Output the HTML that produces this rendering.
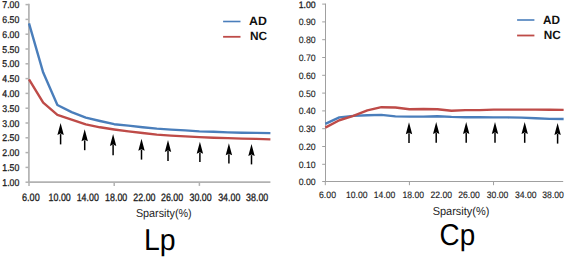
<!DOCTYPE html>
<html><head><meta charset="utf-8"><style>
html,body{margin:0;padding:0;background:#fff;width:567px;height:259px;overflow:hidden}
svg{display:block}
</style></head><body>
<svg width="567" height="259" viewBox="0 0 567 259" text-rendering="geometricPrecision">
<rect width="567" height="259" fill="#fff"/>
<line x1="28.9" y1="3.8" x2="28.9" y2="182.2" stroke="#b2b2b2" stroke-width="1.7"/>
<line x1="28" y1="182.2" x2="270.4" y2="182.2" stroke="#b2b2b2" stroke-width="1.7"/>
<line x1="25.5" y1="4.60" x2="28.9" y2="4.60" stroke="#b2b2b2" stroke-width="1.5"/>
<text x="19.3" y="8.20" text-anchor="end" font-size="9.8" fill="#1e1e1e" font-family="Liberation Sans, sans-serif" stroke="#1e1e1e" stroke-width="0.3" textLength="17.0" lengthAdjust="spacingAndGlyphs">7.00</text>
<line x1="25.5" y1="19.40" x2="28.9" y2="19.40" stroke="#b2b2b2" stroke-width="1.5"/>
<text x="19.3" y="23.00" text-anchor="end" font-size="9.8" fill="#1e1e1e" font-family="Liberation Sans, sans-serif" stroke="#1e1e1e" stroke-width="0.3" textLength="17.0" lengthAdjust="spacingAndGlyphs">6.50</text>
<line x1="25.5" y1="34.20" x2="28.9" y2="34.20" stroke="#b2b2b2" stroke-width="1.5"/>
<text x="19.3" y="37.80" text-anchor="end" font-size="9.8" fill="#1e1e1e" font-family="Liberation Sans, sans-serif" stroke="#1e1e1e" stroke-width="0.3" textLength="17.0" lengthAdjust="spacingAndGlyphs">6.00</text>
<line x1="25.5" y1="49.00" x2="28.9" y2="49.00" stroke="#b2b2b2" stroke-width="1.5"/>
<text x="19.3" y="52.60" text-anchor="end" font-size="9.8" fill="#1e1e1e" font-family="Liberation Sans, sans-serif" stroke="#1e1e1e" stroke-width="0.3" textLength="17.0" lengthAdjust="spacingAndGlyphs">5.50</text>
<line x1="25.5" y1="63.80" x2="28.9" y2="63.80" stroke="#b2b2b2" stroke-width="1.5"/>
<text x="19.3" y="67.40" text-anchor="end" font-size="9.8" fill="#1e1e1e" font-family="Liberation Sans, sans-serif" stroke="#1e1e1e" stroke-width="0.3" textLength="17.0" lengthAdjust="spacingAndGlyphs">5.00</text>
<line x1="25.5" y1="78.60" x2="28.9" y2="78.60" stroke="#b2b2b2" stroke-width="1.5"/>
<text x="19.3" y="82.20" text-anchor="end" font-size="9.8" fill="#1e1e1e" font-family="Liberation Sans, sans-serif" stroke="#1e1e1e" stroke-width="0.3" textLength="17.0" lengthAdjust="spacingAndGlyphs">4.50</text>
<line x1="25.5" y1="93.40" x2="28.9" y2="93.40" stroke="#b2b2b2" stroke-width="1.5"/>
<text x="19.3" y="97.00" text-anchor="end" font-size="9.8" fill="#1e1e1e" font-family="Liberation Sans, sans-serif" stroke="#1e1e1e" stroke-width="0.3" textLength="17.0" lengthAdjust="spacingAndGlyphs">4.00</text>
<line x1="25.5" y1="108.20" x2="28.9" y2="108.20" stroke="#b2b2b2" stroke-width="1.5"/>
<text x="19.3" y="111.80" text-anchor="end" font-size="9.8" fill="#1e1e1e" font-family="Liberation Sans, sans-serif" stroke="#1e1e1e" stroke-width="0.3" textLength="17.0" lengthAdjust="spacingAndGlyphs">3.50</text>
<line x1="25.5" y1="123.00" x2="28.9" y2="123.00" stroke="#b2b2b2" stroke-width="1.5"/>
<text x="19.3" y="126.60" text-anchor="end" font-size="9.8" fill="#1e1e1e" font-family="Liberation Sans, sans-serif" stroke="#1e1e1e" stroke-width="0.3" textLength="17.0" lengthAdjust="spacingAndGlyphs">3.00</text>
<line x1="25.5" y1="137.80" x2="28.9" y2="137.80" stroke="#b2b2b2" stroke-width="1.5"/>
<text x="19.3" y="141.40" text-anchor="end" font-size="9.8" fill="#1e1e1e" font-family="Liberation Sans, sans-serif" stroke="#1e1e1e" stroke-width="0.3" textLength="17.0" lengthAdjust="spacingAndGlyphs">2.50</text>
<line x1="25.5" y1="152.60" x2="28.9" y2="152.60" stroke="#b2b2b2" stroke-width="1.5"/>
<text x="19.3" y="156.20" text-anchor="end" font-size="9.8" fill="#1e1e1e" font-family="Liberation Sans, sans-serif" stroke="#1e1e1e" stroke-width="0.3" textLength="17.0" lengthAdjust="spacingAndGlyphs">2.00</text>
<line x1="25.5" y1="167.40" x2="28.9" y2="167.40" stroke="#b2b2b2" stroke-width="1.5"/>
<text x="19.3" y="171.00" text-anchor="end" font-size="9.8" fill="#1e1e1e" font-family="Liberation Sans, sans-serif" stroke="#1e1e1e" stroke-width="0.3" textLength="17.0" lengthAdjust="spacingAndGlyphs">1.50</text>
<line x1="25.5" y1="182.20" x2="28.9" y2="182.20" stroke="#b2b2b2" stroke-width="1.5"/>
<text x="19.3" y="185.80" text-anchor="end" font-size="9.8" fill="#1e1e1e" font-family="Liberation Sans, sans-serif" stroke="#1e1e1e" stroke-width="0.3" textLength="17.0" lengthAdjust="spacingAndGlyphs">1.00</text>
<line x1="29.00" y1="182.2" x2="29.00" y2="185.9" stroke="#b2b2b2" stroke-width="1.5"/>
<line x1="114.20" y1="182.2" x2="114.20" y2="185.9" stroke="#b2b2b2" stroke-width="1.5"/>
<line x1="199.40" y1="182.2" x2="199.40" y2="185.9" stroke="#b2b2b2" stroke-width="1.5"/>
<text x="30.85" y="200.8" text-anchor="middle" font-size="10.6" fill="#1e1e1e" font-family="Liberation Sans, sans-serif" stroke="#1e1e1e" stroke-width="0.3" textLength="17.7" lengthAdjust="spacingAndGlyphs">6.00</text>
<text x="59.7" y="200.8" text-anchor="middle" font-size="10.6" fill="#1e1e1e" font-family="Liberation Sans, sans-serif" stroke="#1e1e1e" stroke-width="0.3" textLength="22.2" lengthAdjust="spacingAndGlyphs">10.00</text>
<text x="87.8" y="200.8" text-anchor="middle" font-size="10.6" fill="#1e1e1e" font-family="Liberation Sans, sans-serif" stroke="#1e1e1e" stroke-width="0.3" textLength="22.2" lengthAdjust="spacingAndGlyphs">14.00</text>
<text x="116.2" y="200.8" text-anchor="middle" font-size="10.6" fill="#1e1e1e" font-family="Liberation Sans, sans-serif" stroke="#1e1e1e" stroke-width="0.3" textLength="22.2" lengthAdjust="spacingAndGlyphs">18.00</text>
<text x="144.4" y="200.8" text-anchor="middle" font-size="10.6" fill="#1e1e1e" font-family="Liberation Sans, sans-serif" stroke="#1e1e1e" stroke-width="0.3" textLength="22.2" lengthAdjust="spacingAndGlyphs">22.00</text>
<text x="172.1" y="200.8" text-anchor="middle" font-size="10.6" fill="#1e1e1e" font-family="Liberation Sans, sans-serif" stroke="#1e1e1e" stroke-width="0.3" textLength="22.2" lengthAdjust="spacingAndGlyphs">26.00</text>
<text x="200.6" y="200.8" text-anchor="middle" font-size="10.6" fill="#1e1e1e" font-family="Liberation Sans, sans-serif" stroke="#1e1e1e" stroke-width="0.3" textLength="22.2" lengthAdjust="spacingAndGlyphs">30.00</text>
<text x="229.3" y="200.8" text-anchor="middle" font-size="10.6" fill="#1e1e1e" font-family="Liberation Sans, sans-serif" stroke="#1e1e1e" stroke-width="0.3" textLength="22.2" lengthAdjust="spacingAndGlyphs">34.00</text>
<text x="257.2" y="200.8" text-anchor="middle" font-size="10.6" fill="#1e1e1e" font-family="Liberation Sans, sans-serif" stroke="#1e1e1e" stroke-width="0.3" textLength="22.2" lengthAdjust="spacingAndGlyphs">38.00</text>
<polyline points="29.00,79.30 43.20,102.70 57.40,114.90 71.60,119.70 85.80,124.30 100.00,127.30 114.20,129.50 128.40,131.40 142.60,133.00 156.80,134.60 171.00,135.60 185.20,136.40 199.40,137.10 213.60,137.70 227.80,138.10 242.00,138.60 256.20,138.90 270.40,139.40" fill="none" stroke="#be4b48" stroke-width="2.4" stroke-linejoin="round" stroke-linecap="butt"/>
<polyline points="29.00,23.40 43.20,72.60 57.40,105.00 71.60,112.10 85.80,117.60 100.00,121.00 114.20,124.20 128.40,125.60 142.60,127.20 156.80,128.60 171.00,129.60 185.20,130.40 199.40,131.35 213.60,131.80 227.80,132.40 242.00,132.80 256.20,132.90 270.40,133.10" fill="none" stroke="#4a7ebb" stroke-width="2.4" stroke-linejoin="round" stroke-linecap="butt"/>
<line x1="223.1" y1="21.5" x2="240.5" y2="21.5" stroke="#4a7ebb" stroke-width="1.6"/>
<line x1="223.1" y1="36.8" x2="240.5" y2="36.8" stroke="#be4b48" stroke-width="1.8"/>
<text x="249" y="25" font-size="12" font-weight="bold" fill="#111" font-family="Liberation Sans, sans-serif" textLength="17.8" lengthAdjust="spacingAndGlyphs">AD</text>
<text x="249.9" y="40.1" font-size="12" font-weight="bold" fill="#111" font-family="Liberation Sans, sans-serif" textLength="17.1" lengthAdjust="spacingAndGlyphs">NC</text>
<text x="135.9" y="217.3" font-size="11.5" fill="#1e1e1e" font-family="Liberation Sans, sans-serif" textLength="55.8" lengthAdjust="spacingAndGlyphs">Sparsity(%)</text>
<text x="143.9" y="250.2" font-size="30" fill="#000" font-family="Liberation Sans, sans-serif" textLength="31.6" lengthAdjust="spacingAndGlyphs">Lp</text>
<line x1="325.5" y1="3.5999999999999996" x2="325.5" y2="182" stroke="#a0a0a0" stroke-width="1"/>
<line x1="325" y1="181.5" x2="563.2" y2="181.5" stroke="#a0a0a0" stroke-width="1"/>
<line x1="322.2" y1="4.10" x2="325.5" y2="4.10" stroke="#a0a0a0" stroke-width="1"/>
<text x="315.7" y="7.60" text-anchor="end" font-size="9.4" fill="#1e1e1e" font-family="Liberation Sans, sans-serif" stroke="#1e1e1e" stroke-width="0.3" textLength="17" lengthAdjust="spacingAndGlyphs">1.00</text>
<line x1="322.2" y1="21.90" x2="325.5" y2="21.90" stroke="#a0a0a0" stroke-width="1"/>
<text x="315.7" y="25.40" text-anchor="end" font-size="9.4" fill="#1e1e1e" font-family="Liberation Sans, sans-serif" stroke="#1e1e1e" stroke-width="0.15" textLength="17" lengthAdjust="spacingAndGlyphs">0.90</text>
<line x1="322.2" y1="39.70" x2="325.5" y2="39.70" stroke="#a0a0a0" stroke-width="1"/>
<text x="315.7" y="43.20" text-anchor="end" font-size="9.4" fill="#1e1e1e" font-family="Liberation Sans, sans-serif" stroke="#1e1e1e" stroke-width="0.15" textLength="17" lengthAdjust="spacingAndGlyphs">0.80</text>
<line x1="322.2" y1="57.50" x2="325.5" y2="57.50" stroke="#a0a0a0" stroke-width="1"/>
<text x="315.7" y="61.00" text-anchor="end" font-size="9.4" fill="#1e1e1e" font-family="Liberation Sans, sans-serif" stroke="#1e1e1e" stroke-width="0.15" textLength="17" lengthAdjust="spacingAndGlyphs">0.70</text>
<line x1="322.2" y1="75.30" x2="325.5" y2="75.30" stroke="#a0a0a0" stroke-width="1"/>
<text x="315.7" y="78.80" text-anchor="end" font-size="9.4" fill="#1e1e1e" font-family="Liberation Sans, sans-serif" stroke="#1e1e1e" stroke-width="0.15" textLength="17" lengthAdjust="spacingAndGlyphs">0.60</text>
<line x1="322.2" y1="93.10" x2="325.5" y2="93.10" stroke="#a0a0a0" stroke-width="1"/>
<text x="315.7" y="96.60" text-anchor="end" font-size="9.4" fill="#1e1e1e" font-family="Liberation Sans, sans-serif" stroke="#1e1e1e" stroke-width="0.15" textLength="17" lengthAdjust="spacingAndGlyphs">0.50</text>
<line x1="322.2" y1="110.90" x2="325.5" y2="110.90" stroke="#a0a0a0" stroke-width="1"/>
<text x="315.7" y="114.40" text-anchor="end" font-size="9.4" fill="#1e1e1e" font-family="Liberation Sans, sans-serif" stroke="#1e1e1e" stroke-width="0.15" textLength="17" lengthAdjust="spacingAndGlyphs">0.40</text>
<line x1="322.2" y1="128.70" x2="325.5" y2="128.70" stroke="#a0a0a0" stroke-width="1"/>
<text x="315.7" y="132.20" text-anchor="end" font-size="9.4" fill="#1e1e1e" font-family="Liberation Sans, sans-serif" stroke="#1e1e1e" stroke-width="0.15" textLength="17" lengthAdjust="spacingAndGlyphs">0.30</text>
<line x1="322.2" y1="146.50" x2="325.5" y2="146.50" stroke="#a0a0a0" stroke-width="1"/>
<text x="315.7" y="150.00" text-anchor="end" font-size="9.4" fill="#1e1e1e" font-family="Liberation Sans, sans-serif" stroke="#1e1e1e" stroke-width="0.15" textLength="17" lengthAdjust="spacingAndGlyphs">0.20</text>
<line x1="322.2" y1="164.30" x2="325.5" y2="164.30" stroke="#a0a0a0" stroke-width="1"/>
<text x="315.7" y="167.80" text-anchor="end" font-size="9.4" fill="#1e1e1e" font-family="Liberation Sans, sans-serif" stroke="#1e1e1e" stroke-width="0.15" textLength="17" lengthAdjust="spacingAndGlyphs">0.10</text>
<line x1="322.2" y1="181.50" x2="325.5" y2="181.50" stroke="#a0a0a0" stroke-width="1"/>
<text x="315.7" y="185.00" text-anchor="end" font-size="9.4" fill="#1e1e1e" font-family="Liberation Sans, sans-serif" stroke="#1e1e1e" stroke-width="0.15" textLength="17" lengthAdjust="spacingAndGlyphs">0.00</text>
<line x1="325.30" y1="181.5" x2="325.30" y2="185.2" stroke="#a0a0a0" stroke-width="1"/>
<line x1="409.42" y1="181.5" x2="409.42" y2="185.2" stroke="#a0a0a0" stroke-width="1"/>
<line x1="493.54" y1="181.5" x2="493.54" y2="185.2" stroke="#a0a0a0" stroke-width="1"/>
<text x="327.5" y="197.9" text-anchor="middle" font-size="9.4" fill="#1e1e1e" font-family="Liberation Sans, sans-serif" stroke="#1e1e1e" stroke-width="0.15" textLength="17.0" lengthAdjust="spacingAndGlyphs">6.00</text>
<text x="356.7" y="197.9" text-anchor="middle" font-size="9.4" fill="#1e1e1e" font-family="Liberation Sans, sans-serif" stroke="#1e1e1e" stroke-width="0.15" textLength="21.6" lengthAdjust="spacingAndGlyphs">10.00</text>
<text x="384.6" y="197.9" text-anchor="middle" font-size="9.4" fill="#1e1e1e" font-family="Liberation Sans, sans-serif" stroke="#1e1e1e" stroke-width="0.15" textLength="21.6" lengthAdjust="spacingAndGlyphs">14.00</text>
<text x="413.3" y="197.9" text-anchor="middle" font-size="9.4" fill="#1e1e1e" font-family="Liberation Sans, sans-serif" stroke="#1e1e1e" stroke-width="0.15" textLength="21.6" lengthAdjust="spacingAndGlyphs">18.00</text>
<text x="441.3" y="197.9" text-anchor="middle" font-size="9.4" fill="#1e1e1e" font-family="Liberation Sans, sans-serif" stroke="#1e1e1e" stroke-width="0.15" textLength="21.6" lengthAdjust="spacingAndGlyphs">22.00</text>
<text x="469.0" y="197.9" text-anchor="middle" font-size="9.4" fill="#1e1e1e" font-family="Liberation Sans, sans-serif" stroke="#1e1e1e" stroke-width="0.15" textLength="21.6" lengthAdjust="spacingAndGlyphs">26.00</text>
<text x="497.6" y="197.9" text-anchor="middle" font-size="9.4" fill="#1e1e1e" font-family="Liberation Sans, sans-serif" stroke="#1e1e1e" stroke-width="0.15" textLength="21.6" lengthAdjust="spacingAndGlyphs">30.00</text>
<text x="525.8" y="197.9" text-anchor="middle" font-size="9.4" fill="#1e1e1e" font-family="Liberation Sans, sans-serif" stroke="#1e1e1e" stroke-width="0.15" textLength="21.6" lengthAdjust="spacingAndGlyphs">34.00</text>
<text x="553.1" y="197.9" text-anchor="middle" font-size="9.4" fill="#1e1e1e" font-family="Liberation Sans, sans-serif" stroke="#1e1e1e" stroke-width="0.15" textLength="21.6" lengthAdjust="spacingAndGlyphs">38.00</text>
<polyline points="325.30,123.80 339.32,117.40 353.34,115.90 367.36,115.20 381.38,114.90 395.40,116.40 409.42,116.60 423.44,116.60 437.46,116.20 451.48,116.90 465.50,117.20 479.52,117.20 493.54,117.40 507.56,117.40 521.58,117.60 535.60,118.30 549.62,118.90 563.64,119.00" fill="none" stroke="#4a7ebb" stroke-width="2.4" stroke-linejoin="round" stroke-linecap="butt"/>
<polyline points="325.30,127.60 339.32,120.25 353.34,115.90 367.36,110.40 381.38,107.20 395.40,107.50 409.42,109.20 423.44,109.00 437.46,109.20 451.48,110.80 465.50,110.10 479.52,110.10 493.54,109.60 507.56,109.60 521.58,109.60 535.60,109.60 549.62,109.70 563.64,109.90" fill="none" stroke="#be4b48" stroke-width="2.4" stroke-linejoin="round" stroke-linecap="butt"/>
<line x1="517.1" y1="20" x2="534.4" y2="20" stroke="#4a7ebb" stroke-width="1.6"/>
<line x1="517.1" y1="35.5" x2="534.4" y2="35.5" stroke="#be4b48" stroke-width="1.8"/>
<text x="542.9" y="23.9" font-size="12" font-weight="bold" fill="#111" font-family="Liberation Sans, sans-serif" textLength="17" lengthAdjust="spacingAndGlyphs">AD</text>
<text x="543.7" y="39" font-size="12" font-weight="bold" fill="#111" font-family="Liberation Sans, sans-serif" textLength="17" lengthAdjust="spacingAndGlyphs">NC</text>
<text x="432.7" y="215.4" font-size="11.5" fill="#1e1e1e" font-family="Liberation Sans, sans-serif" textLength="56.7" lengthAdjust="spacingAndGlyphs">Sparsity(%)</text>
<text x="439.6" y="245.4" font-size="30" fill="#000" font-family="Liberation Sans, sans-serif" textLength="35.6" lengthAdjust="spacingAndGlyphs">Cp</text>
<line x1="60.6" y1="134.1" x2="60.6" y2="144.4" stroke="#000" stroke-width="1.5"/><polygon points="60.6,123.1 63.800000000000004,135.1 60.6,133.6 57.4,135.1" fill="#000"/>
<line x1="84.7" y1="140.3" x2="84.7" y2="150.2" stroke="#000" stroke-width="1.5"/><polygon points="84.7,129.3 87.9,141.3 84.7,139.8 81.5,141.3" fill="#000"/>
<line x1="113.1" y1="144.9" x2="113.1" y2="155.2" stroke="#000" stroke-width="1.5"/><polygon points="113.1,133.9 116.3,145.9 113.1,144.4 109.89999999999999,145.9" fill="#000"/>
<line x1="141.5" y1="149.7" x2="141.5" y2="159.6" stroke="#000" stroke-width="1.5"/><polygon points="141.5,138.7 144.7,150.7 141.5,149.2 138.3,150.7" fill="#000"/>
<line x1="168" y1="150.9" x2="168" y2="161" stroke="#000" stroke-width="1.5"/><polygon points="168,139.9 171.2,151.9 168,150.4 164.8,151.9" fill="#000"/>
<line x1="199.9" y1="152.8" x2="199.9" y2="162.1" stroke="#000" stroke-width="1.5"/><polygon points="199.9,141.8 203.1,153.8 199.9,152.3 196.70000000000002,153.8" fill="#000"/>
<line x1="228.9" y1="154.2" x2="228.9" y2="163.5" stroke="#000" stroke-width="1.5"/><polygon points="228.9,143.2 232.1,155.2 228.9,153.7 225.70000000000002,155.2" fill="#000"/>
<line x1="251.5" y1="155.1" x2="251.5" y2="164.4" stroke="#000" stroke-width="1.5"/><polygon points="251.5,144.1 254.7,156.1 251.5,154.6 248.3,156.1" fill="#000"/>
<line x1="409" y1="133.3" x2="409" y2="142.9" stroke="#000" stroke-width="1.5"/><polygon points="409,122.3 412.2,134.3 409,132.8 405.8,134.3" fill="#000"/>
<line x1="436.2" y1="133.0" x2="436.2" y2="142.8" stroke="#000" stroke-width="1.5"/><polygon points="436.2,122 439.4,134.0 436.2,132.5 433.0,134.0" fill="#000"/>
<line x1="466.2" y1="133.0" x2="466.2" y2="142.8" stroke="#000" stroke-width="1.5"/><polygon points="466.2,122 469.4,134.0 466.2,132.5 463.0,134.0" fill="#000"/>
<line x1="495" y1="133.0" x2="495" y2="142.8" stroke="#000" stroke-width="1.5"/><polygon points="495,122 498.2,134.0 495,132.5 491.8,134.0" fill="#000"/>
<line x1="524.7" y1="133.0" x2="524.7" y2="142.8" stroke="#000" stroke-width="1.5"/><polygon points="524.7,122 527.9000000000001,134.0 524.7,132.5 521.5,134.0" fill="#000"/>
<line x1="557.6" y1="134.0" x2="557.6" y2="143.6" stroke="#000" stroke-width="1.5"/><polygon points="557.6,123 560.8000000000001,135.0 557.6,133.5 554.4,135.0" fill="#000"/>
</svg>
</body></html>
